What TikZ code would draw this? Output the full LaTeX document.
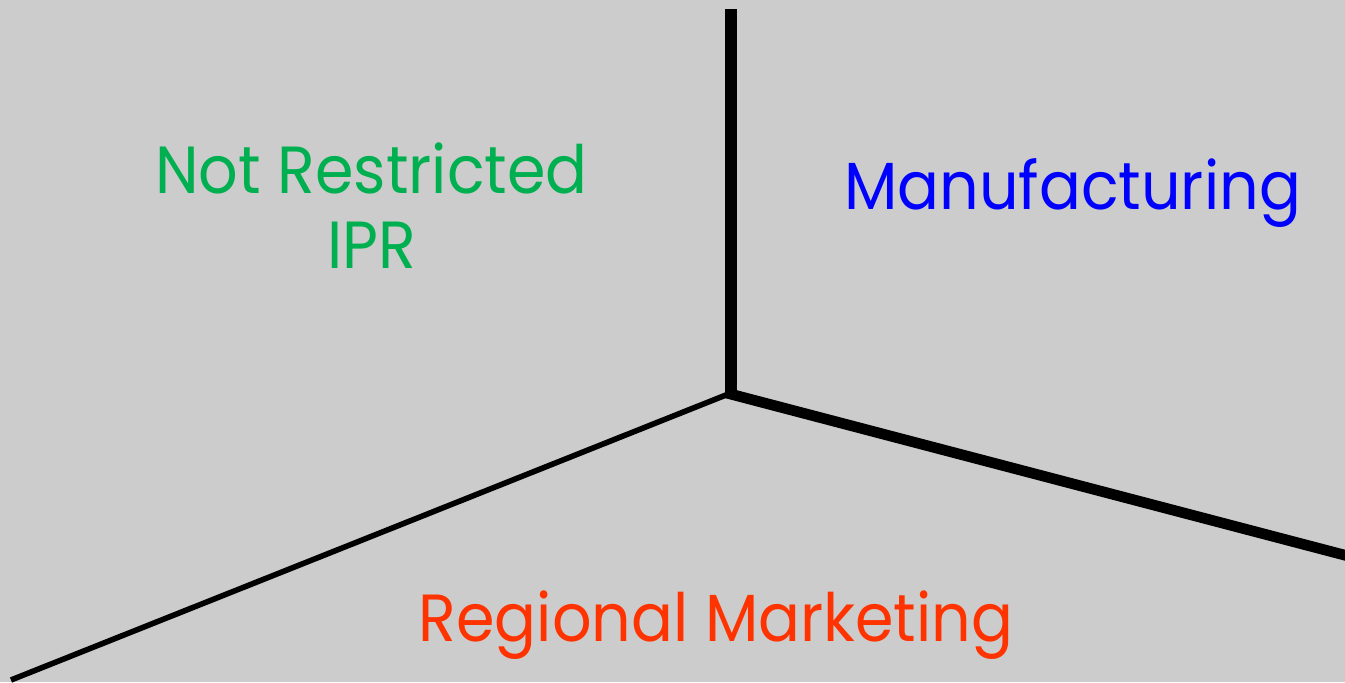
\documentclass[tikz,border=0pt]{standalone}
\usepackage{fontspec}
\setmainfont[FakeStretch=0.93]{Poppins}
\usetikzlibrary{calc}
\definecolor{bgGrey}{RGB}{204,204,204}
\definecolor{ipGreen}{RGB}{0,176,80}
\definecolor{mfBlue}{RGB}{0,0,255}
\definecolor{rmRed}{RGB}{255,51,0}
\tikzset{
  label text/.style={anchor=base, inner sep=0.75pt, font=\fontsize{50}{56.25}\selectfont, align=center},
}
\begin{document}
\begin{tikzpicture}[x=0.75pt,y=0.75pt,yscale=-1,xscale=1]
	\useasboundingbox (0,0) rectangle (1345,682);
	\fill [bgGrey] (0,0) rectangle (1345,682);
	
	\coordinate (hub) at (731,393);
	\coordinate (topEnd) at (731,9);
	\coordinate (rightEnd) at (1348,556);
	\coordinate (leftEnd) at (11,680);
	
	%Straight Lines
	\draw [line width=4.2pt]    (hub) -- (leftEnd) ;
	%Straight Lines
	\draw [line width=8pt]    ($(hub)+(-4.5,0)$) -- (rightEnd) ;
	%Straight Lines
	\draw [line width=9pt]    (topEnd) -- ($(hub)+(0,3)$) ;
	
	% Text Node
	\node [label text, text=ipGreen] (notRestricted) at (371.5,268) {Not Restricted\\IPR};
	% Text Node
	\node [label text, text=mfBlue] (manufacturing) at (1072.5,209) {Manufacturing};
	% Text Node
	\node [label text, text=rmRed] (regionalMarketing) at (716,641) {Regional Marketing};
\end{tikzpicture}
\end{document}
